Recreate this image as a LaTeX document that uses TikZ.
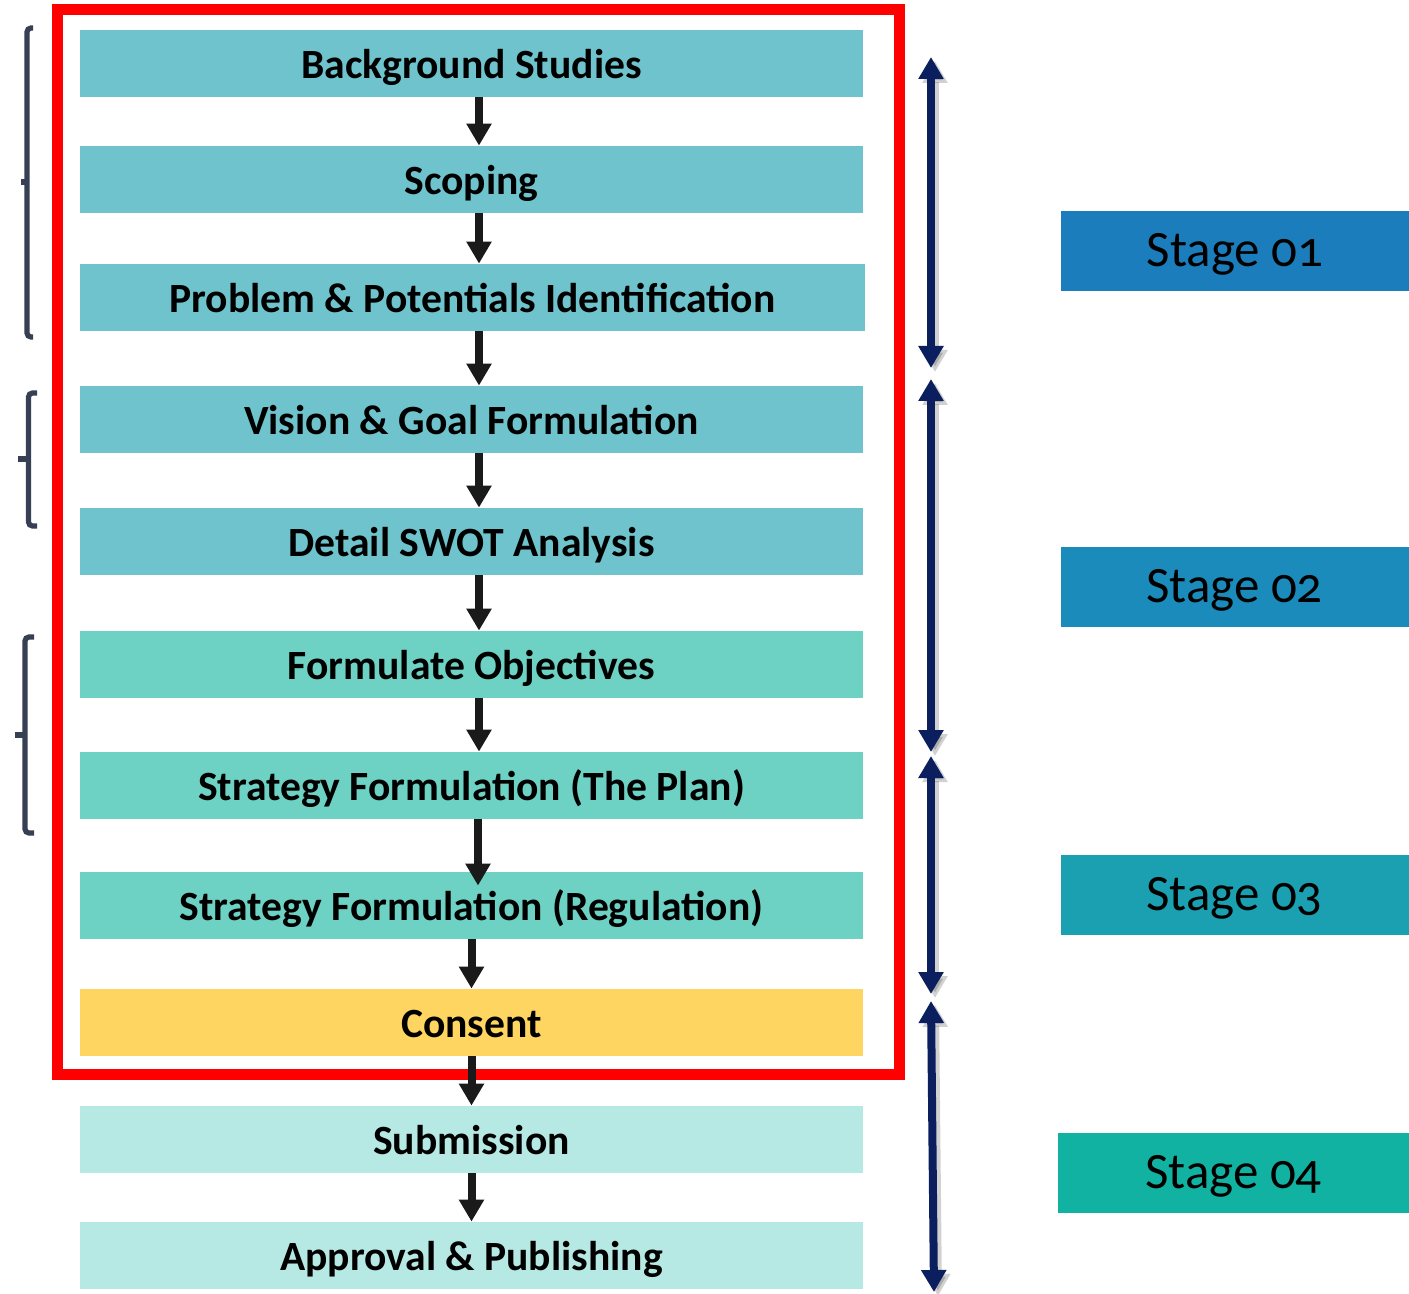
\documentclass[tikz,border=0pt]{standalone}
\usepackage{fontspec}
\setmainfont{Carlito}
\newfontfamily\stagefont[Numbers=OldStyle]{Carlito}
\usetikzlibrary{arrows.meta}
\definecolor{boxA}{HTML}{6FC3CC}
\definecolor{boxB}{HTML}{6DD1C4}
\definecolor{boxC}{HTML}{FFD561}
\definecolor{boxD}{HTML}{B6E9E3}
\definecolor{navy}{HTML}{0B1F5E}
\definecolor{brk}{HTML}{373F55}
\definecolor{arr}{HTML}{1A1A1A}
\definecolor{stA}{HTML}{1B7DBB}
\definecolor{stB}{HTML}{1A8BBA}
\definecolor{stC}{HTML}{1AA0B1}
\definecolor{stD}{HTML}{12B2A3}
\tikzset{
  stepbox/.style={minimum width=391.5pt, minimum height=33.5pt, inner sep=0pt,
    font=\bfseries\fontsize{20.8}{24}\selectfont, text=black,
    text height=14.6pt, text depth=0pt},
  stagebox/.style={minimum width=174pt, minimum height=40pt, inner sep=0pt,
    font=\stagefont\fontsize{25.5}{30}\selectfont, text=black,
    text height=15.8pt, text depth=0pt},
  flowarr/.style={draw=arr, line width=4pt, -{Triangle[width=12pt,length=11pt]}},
  spanarr/.style={draw=navy, line width=4pt,
    {Triangle[width=12pt,length=11pt]}-{Triangle[width=12pt,length=11pt]}},
  spanshadow/.style={draw=black, opacity=0.18, line width=4pt,
    {Triangle[width=12pt,length=11pt]}-{Triangle[width=12pt,length=11pt]}},
  bracket/.style={draw=brk, line width=2.6pt, rounded corners=2pt},
  frame/.style={draw=red, line width=5.5pt}
}
\begin{document}
\begin{tikzpicture}[x=0.5pt,y=-0.5pt]
\useasboundingbox (0,0) rectangle (1409,1294);
% step boxes
\node[stepbox, fill=boxA] (bs)  at (471.5,63.5)  {Background Studies};
\node[stepbox, fill=boxA] (sc)  at (471.5,179.5) {Scoping};
\node[stepbox, fill=boxA, minimum width=392.5pt] (pp)  at (472.5,297.5) {Problem \& Potentials Identification};
\node[stepbox, fill=boxA] (vg)  at (471.5,419.5) {Vision \& Goal Formulation};
\node[stepbox, fill=boxA] (sw)  at (471.5,541.5) {Detail SWOT Analysis};
\node[stepbox, fill=boxB] (fo)  at (471.5,664.5) {Formulate Objectives};
\node[stepbox, fill=boxB] (sp)  at (471.5,785.5) {Strategy Formulation (The Plan)};
\node[stepbox, fill=boxB] (sr)  at (471.5,905.5) {Strategy Formulation (Regulation)};
\node[stepbox, fill=boxC] (co)  at (471.5,1022.5) {Consent};
\node[stepbox, fill=boxD] (su)  at (471.5,1139.5) {Submission};
\node[stepbox, fill=boxD] (ap)  at (471.5,1255.5) {Approval \& Publishing};
% red frame
\draw[frame] (57.5,9.5) rectangle (899,1074);
% flow arrows
\draw[flowarr] ([xshift=3.75pt]bs.south) -- ([xshift=3.75pt]sc.north);
\draw[flowarr] ([xshift=3.75pt]sc.south) -- ([xshift=3.25pt]pp.north);
\draw[flowarr] ([xshift=3.25pt]pp.south) -- ([xshift=3.75pt]vg.north);
\draw[flowarr] ([xshift=3.75pt]vg.south) -- ([xshift=3.75pt]sw.north);
\draw[flowarr] ([xshift=3.75pt]sw.south) -- ([xshift=3.75pt]fo.north);
\draw[flowarr] ([xshift=3.75pt]fo.south) -- ([xshift=3.75pt]sp.north);
\draw[flowarr] ([xshift=3.25pt]sp.south) -- ([xshift=3.25pt,yshift=-7pt]sr.north);
\draw[flowarr] (sr.south) -- (co.north);
\draw[flowarr] (co.south) -- (su.north);
\draw[flowarr] (su.south) -- (ap.north);
% stage boxes
\node[stagebox, fill=stA] (s1) at (1235,251)    {Stage 01};
\node[stagebox, fill=stB] (s2) at (1234.5,587)  {Stage 02};
\node[stagebox, fill=stC] (s3) at (1234.5,895)  {Stage 03};
\node[stagebox, fill=stD, minimum width=175.5pt] (s4) at (1233.5,1173) {Stage 04};
% span arrows
\coordinate (a1t) at (931,57);   \coordinate (a1b) at (931,368);
\coordinate (a2t) at (931,379);  \coordinate (a2b) at (931,752);
\coordinate (a3t) at (931,756);  \coordinate (a3b) at (931,994);
\coordinate (a4t) at (931,1001); \coordinate (a4b) at (934,1292);
\foreach \t/\b in {a1t/a1b,a2t/a2b,a3t/a3b,a4t/a4b}{
  \draw[spanshadow] ([shift={(4,4)}]\t) -- ([shift={(4,4)}]\b);
}
\foreach \t/\b in {a1t/a1b,a2t/a2b,a3t/a3b,a4t/a4b}{
  \draw[spanarr] (\t) -- (\b);
}
% left brackets
\draw[bracket] (33,28) -- (27,28) -- (27,337) -- (33,337);
\draw[bracket, rounded corners=0pt] (27,182) -- (21,182);
\draw[bracket] (37,393) -- (28.5,393) -- (28.5,526) -- (37,526);
\draw[bracket, rounded corners=0pt] (28.5,459) -- (18,459);
\draw[bracket] (34,637) -- (25,637) -- (25,833) -- (34,833);
\draw[bracket, rounded corners=0pt] (25,735) -- (15,735);
\end{tikzpicture}
\end{document}
